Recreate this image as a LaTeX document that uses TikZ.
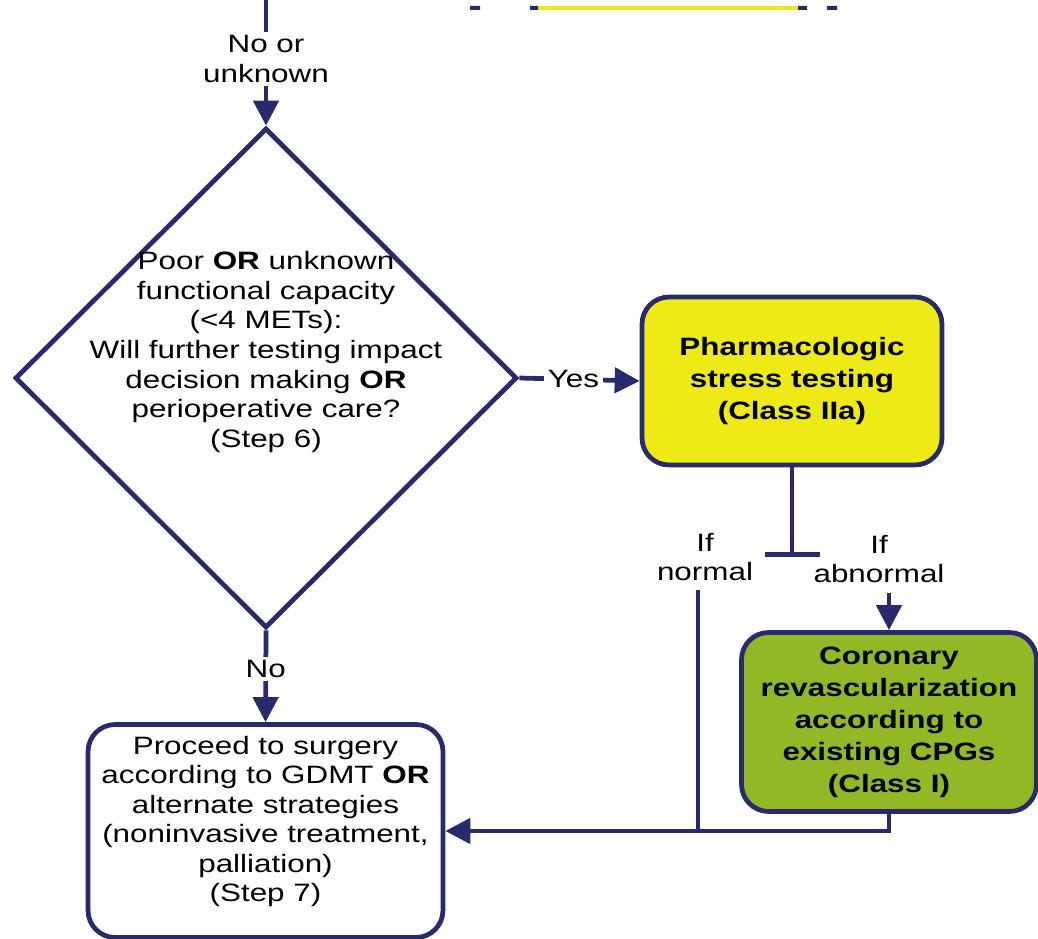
\documentclass[tikz,border=0pt]{standalone}
\usepackage{fontspec}
\setmainfont{Liberation Sans}[FakeStretch=1.25]
\usetikzlibrary{arrows.meta, shapes.geometric, positioning, quotes}
\definecolor{navy}{RGB}{40,42,110}
\definecolor{testyellow}{RGB}{238,234,22}
\definecolor{revgreen}{RGB}{146,184,38}
\newcommand{\flowfont}{\fontsize{14.3pt}{16.8pt}\selectfont}
\newcommand{\boxfont}{\fontsize{14.3pt}{18.2pt}\selectfont\bfseries}
\tikzstyle{every picture} = [x=0.02cm, y=-0.02cm]
\tikzstyle{conn} = [draw=navy, line width=2.7pt]
\tikzstyle{flow} = [conn, -{Triangle[length=0.5cm, width=0.5cm]}]
\tikzstyle{txt} = [align=center, inner sep=2pt, font=\flowfont]
\tikzstyle{lbl} = [txt, fill=white]
\tikzstyle{box} = [rectangle, rounded corners=0.54cm, draw=navy, line width=2.7pt, txt]

\begin{document}
\begin{tikzpicture}
            \useasboundingbox (0,0) rectangle (1038,939);
            % bottom of the box above, cut off
            \fill[testyellow] (538,6) rectangle (798,10);
            \fill[navy] (470,6) rectangle (480,10) (530,6) rectangle (538,10)
                        (798,6) rectangle (807,10) (827,6) rectangle (837,10);

            \node (step 6) [diamond,draw=navy,line width=2.7pt,shape aspect=1,minimum width=10.04cm,minimum height=10cm,inner sep=0pt] at (266,378) {};
            \node (step 6 text) [txt] at ([yshift=0.52cm]step 6) {Poor \textbf{OR} unknown\\functional capacity\\(<4 METs):\\Will further testing impact\\decision making \textbf{OR}\\perioperative care?\\(Step 6)};
            \node (stress test) [box,fill=testyellow,minimum width=6cm,minimum height=3.36cm,font=\boxfont] at (792,381) {Pharmacologic\\stress testing\\(Class IIa)};
            \node (revasc) [box,fill=revgreen,minimum width=5.9cm,minimum height=3.58cm,font=\boxfont] at (889,722) {Coronary\\revascularization\\according to\\existing CPGs\\(Class I)};
            \node (step 7) [box,fill=white,minimum width=7.1cm,minimum height=4.26cm] at (265.5,831) {};
            \node (step 7 text) [txt] at ([yshift=0.19cm]step 7) {Proceed to surgery\\according to GDMT \textbf{OR}\\alternate strategies\\(noninvasive treatment,\\palliation)\\(Step 7)};

            \coordinate (from above) at (266,0);
            \coordinate (split) at (792,557);
            \coordinate (if normal) at (698,590);
            \coordinate (if abnormal) at (889,593);
            \node (normal lbl) [txt] at (705,557) {If\\normal};
            \node (abnormal lbl) [txt] at (879,559) {If\\abnormal};

            \path (from above) edge[flow] node[lbl,pos=.47] {No or\\unknown} (step 6.north)
                  (step 6.east) edge[flow] node[lbl,pos=.45] {Yes} (stress test.west)
                  (step 6.south) edge[flow] node[lbl,pos=.42] {No} (step 7.north)
                  (stress test.south) edge[conn,-{Bar[width=1.1cm]}] (split)
                  (if abnormal) edge[flow] (revasc.north)
                  (if normal) edge[conn] (if normal |- step 7.east);
            \draw[flow] (revasc.south) |- (step 7.east);
        \end{tikzpicture}
\end{document}
